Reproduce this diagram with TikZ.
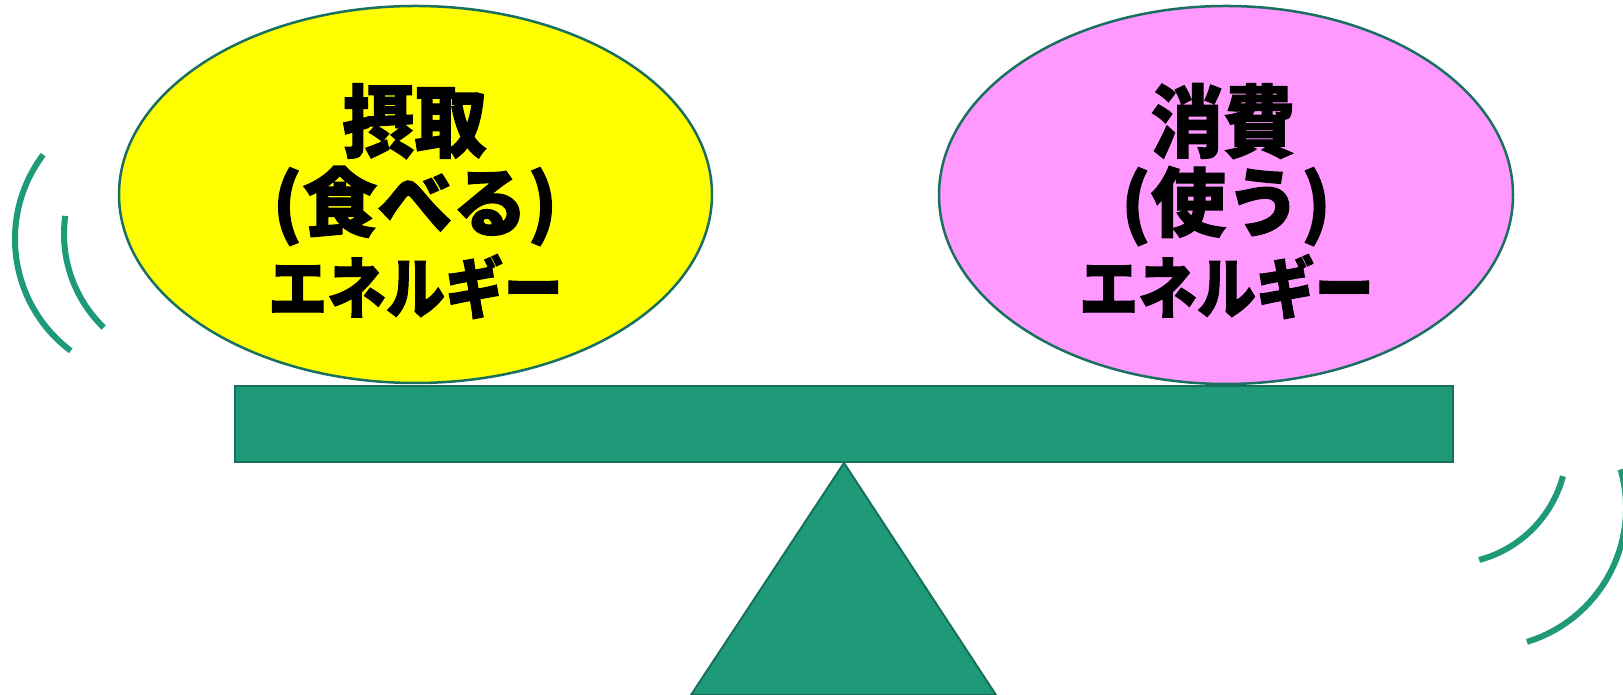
\documentclass[tikz,border=0pt]{standalone}
\usepackage{fontspec}
\usetikzlibrary{shapes.geometric}
\newfontfamily\jpfont{Noto Sans CJK JP}[BoldFeatures={FakeBold=1.6}]
\definecolor{beamfill}{HTML}{1E9A78}
\definecolor{beamline}{HTML}{17705A}
\definecolor{ovalline}{HTML}{1A7060}
\definecolor{yel}{HTML}{FFFF00}
\definecolor{pinkfill}{HTML}{FF99FF}
\begin{document}
\begin{tikzpicture}[x=1pt,y=1pt,
  plate/.style={ellipse, draw=ovalline, line width=2.5pt, inner sep=0pt},
  beamstyle/.style={rectangle, draw=beamline, line width=2pt, fill=beamfill, inner sep=0pt},
  wave/.style={draw=beamfill, line width=6pt},
  bigtxt/.style={font=\jpfont\bfseries\fontsize{76}{80}\selectfont, anchor=base, inner sep=0pt},
  midtxt/.style={font=\jpfont\bfseries\fontsize{75}{78}\selectfont, anchor=base, inner sep=0pt},
  smalltxt/.style={font=\jpfont\bfseries\fontsize{62}{64}\selectfont, anchor=base, inner sep=0pt}]
\useasboundingbox (0,0) rectangle (1623,695);
% beam and fulcrum
\node[beamstyle, minimum width=1218pt, minimum height=76pt] (beam) at (844,271) {};
\coordinate (baseL) at (691,0);
\coordinate (baseR) at (996,0);
\filldraw[draw=beamline, line width=2pt, fill=beamfill] (beam.south) -- (baseL) -- (baseR) -- cycle;
% plates
\node[plate, fill=yel, minimum width=593pt, minimum height=377pt] (intake) at (415.5,500.5) {};
\node[plate, fill=pinkfill, minimum width=574pt, minimum height=378pt] (use) at (1226,500) {};
% texts
\node[bigtxt] (t1) at (414.5,544) {\scalebox{0.95}[1.04]{摂取}};
\node[midtxt] (t2) at (415,464.5) {(食べる)};
\node[smalltxt] (t3) at (415.5,382) {\scalebox{0.95}[1.08]{エネルギー}};
\node[bigtxt] (u1) at (1223,544) {\scalebox{0.95}[1.04]{消費}};
\node[midtxt] (u2) at (1226,464.5) {(使う)};
\node[smalltxt] (u3) at (1226.5,382) {\scalebox{0.95}[1.08]{エネルギー}};
% motion arcs
\coordinate (cLo) at (155,456);
\coordinate (cLi) at (194,461);
\coordinate (cRi) at (1448.5,249.5);
\coordinate (cRo) at (1486,187);
\draw[wave] ([shift={(143:140)}]cLo) arc[start angle=143, end angle=233, radius=140];
\draw[wave] ([shift={(172:130)}]cLi) arc[start angle=172, end angle=226, radius=130];
\draw[wave] ([shift={(-75:118.5)}]cRi) arc[start angle=-75, end angle=-15, radius=118.5];
\draw[wave] ([shift={(-73:140)}]cRo) arc[start angle=-73, end angle=16, radius=140];
\end{tikzpicture}
\end{document}
